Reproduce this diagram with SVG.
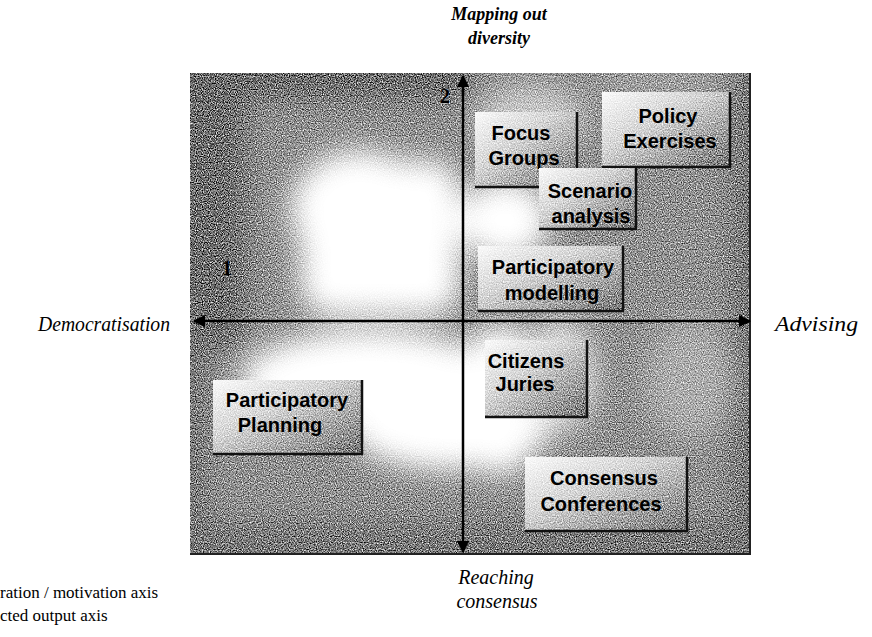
<svg xmlns="http://www.w3.org/2000/svg" width="872" height="637" viewBox="0 0 872 637">
<style>
.ax{font-family:"Liberation Serif","Times New Roman",serif;font-style:italic;font-size:20px;fill:#000}
.axt{font-family:"Liberation Serif","Times New Roman",serif;font-style:italic;font-weight:bold;font-size:18px;fill:#000;text-anchor:middle}
.leg{font-family:"Liberation Serif","Times New Roman",serif;font-size:17px;fill:#000}
.num{font-family:"Liberation Serif","Times New Roman",serif;font-weight:bold;font-size:20px;fill:#000}
.nt{font-family:"Liberation Sans",Arial,sans-serif;font-weight:bold;font-size:20px;fill:#000;text-anchor:middle}
.box{fill:url(#nodeG)}
.edge{fill:none;stroke:#111;stroke-width:2.5}
.axis{stroke:#000;stroke-width:2.5;fill:none;marker-start:url(#arr);marker-end:url(#arr)}
</style>
<defs>
<marker id="arr" viewBox="0 0 10 10" refX="9" refY="5" markerWidth="5" markerHeight="5" orient="auto-start-reverse" markerUnits="strokeWidth">
<path d="M0,0 L10,5 L0,10 Z" fill="#000"/>
</marker>
<linearGradient id="nodeG" x1="0" y1="0" x2="1" y2="1">
<stop offset="0" stop-color="#fafafa"/>
<stop offset="0.4" stop-color="#d4d4d4"/>
<stop offset="1" stop-color="#727272"/>
</linearGradient>
<clipPath id="panelClip"><rect x="190" y="73" width="561" height="482"/></clipPath>
<filter id="blur" x="-20%" y="-20%" width="140%" height="140%"><feGaussianBlur stdDeviation="14"/></filter>
<filter id="grain" x="0" y="0" width="100%" height="100%" color-interpolation-filters="sRGB">
<feTurbulence type="fractalNoise" baseFrequency="0.85" numOctaves="1" seed="7" result="n"/>
<feColorMatrix in="n" type="matrix" values="1 0 0 0 0  1 0 0 0 0  1 0 0 0 0  0 0 0 0 1" result="ng"/>
<feComposite in="SourceGraphic" in2="ng" operator="arithmetic" k1="-3.5" k2="2.75" k3="3.5" k4="-1.75"/>
</filter>
</defs>

<g id="panel" clip-path="url(#panelClip)">
<g filter="url(#grain)">
<rect x="190" y="73" width="561" height="482" fill="#909090"/>
<g filter="url(#blur)">
<rect x="150" y="50" width="95" height="300" fill="#6c6c6c"/>
<rect x="150" y="300" width="55" height="280" fill="#747474"/>
<rect x="150" y="40" width="320" height="58" fill="#6a6a6a"/>
<rect x="150" y="522" width="640" height="60" fill="#777"/>
<rect x="732" y="60" width="60" height="520" fill="#747474"/>
<rect x="300" y="160" width="160" height="155" rx="30" fill="#fff"/>
<ellipse cx="360" cy="210" rx="70" ry="60" fill="#fff"/>
<ellipse cx="530" cy="120" rx="55" ry="35" fill="#c8c8c8"/>
<ellipse cx="370" cy="380" rx="130" ry="50" fill="#fff"/>
<ellipse cx="450" cy="430" rx="100" ry="40" fill="#fff"/>
<ellipse cx="505" cy="220" rx="45" ry="40" fill="#fff"/>
<ellipse cx="500" cy="400" rx="45" ry="75" fill="#fff"/>
<ellipse cx="560" cy="375" rx="35" ry="55" fill="#e0e0e0"/>
<ellipse cx="690" cy="380" rx="45" ry="60" fill="#acacac"/>
<ellipse cx="660" cy="85" rx="70" ry="15" fill="#a6a6a6"/>
</g>
</g>
<line x1="750" y1="73" x2="750" y2="555" stroke="#222" stroke-width="2"/>
<line x1="190" y1="554" x2="751" y2="554" stroke="#222" stroke-width="2"/>
</g>

<g id="connectors">
<line class="axis" x1="463" y1="552" x2="463" y2="76"/>
<line class="axis" x1="194" y1="321" x2="750" y2="321"/>
</g>

<g id="scale">
<text class="num" x="440" y="103">2</text>
<text class="num" x="222" y="275">1</text>
</g>

<g id="node-focus-groups">
<g filter="url(#grain)"><rect class="box" x="475" y="112" width="103" height="76"/></g>
<polyline class="edge" points="577,112 577,187 475,187"/>
<text class="nt" x="521" y="140">Focus</text>
<text class="nt" x="524" y="165">Groups</text>
</g>
<g id="node-policy-exercises">
<g filter="url(#grain)"><rect class="box" x="602" y="92" width="129" height="76"/></g>
<polyline class="edge" points="730,92 730,167 602,167"/>
<text class="nt" x="668" y="123">Policy</text>
<text class="nt" x="670" y="148">Exercises</text>
</g>
<g id="node-scenario-analysis">
<g filter="url(#grain)"><rect class="box" x="539" y="168" width="98" height="62"/></g>
<polyline class="edge" points="636,168 636,229 539,229"/>
<text class="nt" x="590" y="198">Scenario</text>
<text class="nt" x="591" y="223">analysis</text>
</g>
<g id="node-participatory-modelling">
<g filter="url(#grain)"><rect class="box" x="478" y="246" width="146" height="66"/></g>
<polyline class="edge" points="623,246 623,311 478,311"/>
<text class="nt" x="553" y="274">Participatory</text>
<text class="nt" x="552" y="300">modelling</text>
</g>
<g id="node-citizens-juries">
<g filter="url(#grain)"><rect class="box" x="485" y="340" width="103" height="78"/></g>
<polyline class="edge" points="587,340 587,417 485,417"/>
<text class="nt" x="526" y="368">Citizens</text>
<text class="nt" x="525" y="391">Juries</text>
</g>
<g id="node-consensus-conferences">
<g filter="url(#grain)"><rect class="box" x="525" y="457" width="163" height="75"/></g>
<polyline class="edge" points="687,457 687,531 525,531"/>
<text class="nt" x="604" y="485">Consensus</text>
<text class="nt" x="601" y="511">Conferences</text>
</g>
<g id="node-participatory-planning">
<g filter="url(#grain)"><rect class="box" x="213" y="380" width="150" height="75"/></g>
<polyline class="edge" points="362,380 362,454 213,454"/>
<text class="nt" x="287" y="407">Participatory</text>
<text class="nt" x="280" y="432">Planning</text>
</g>

<g id="labels">
<text class="axt" x="499" y="20">Mapping out</text>
<text class="axt" x="499" y="44">diversity</text>
<text class="ax" x="38" y="331" textLength="132" lengthAdjust="spacingAndGlyphs">Democratisation</text>
<text class="ax" x="775" y="331" textLength="83" lengthAdjust="spacingAndGlyphs">Advising</text>
<text class="ax" x="496" y="584" text-anchor="middle">Reaching</text>
<text class="ax" x="497" y="608" text-anchor="middle">consensus</text>
<text class="leg" x="0" y="598">ration / motivation axis</text>
<text class="leg" x="0" y="621">cted output axis</text>
</g>
</svg>
